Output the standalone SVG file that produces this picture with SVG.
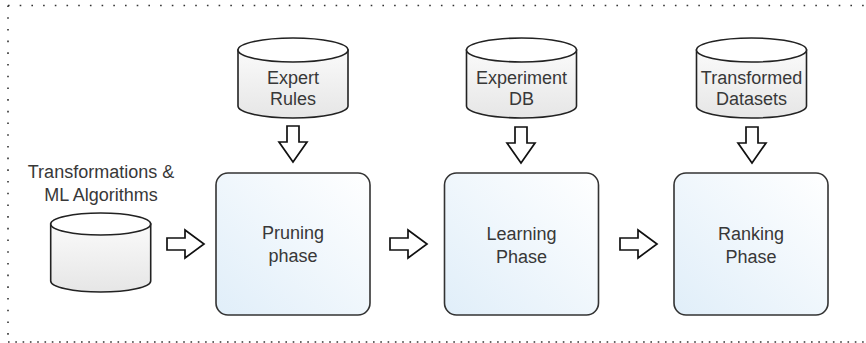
<svg xmlns="http://www.w3.org/2000/svg" width="866" height="343" viewBox="0 0 866 343">
<style>
.t{font-family:"Liberation Sans",Arial,sans-serif;font-size:18px;fill:#383838;text-anchor:middle}
.cyl{fill:url(#cylg);stroke:#222;stroke-width:1.6}
.cyltop{fill:#fff;stroke:#222;stroke-width:1.6}
.box{fill:url(#boxg);stroke:#333;stroke-width:1.6}
.arr{fill:#fff;stroke:#111;stroke-width:1.7;stroke-linejoin:miter}
.dot{stroke:#333;stroke-width:1.6;fill:none}
</style>
<defs>
<linearGradient id="cylg" x1="0" y1="0" x2="0" y2="1">
<stop offset="0" stop-color="#fafafa"/>
<stop offset="1" stop-color="#e6e6e6"/>
</linearGradient>
<linearGradient id="boxg" x1="0" y1="1" x2="1" y2="0">
<stop offset="0" stop-color="#e0eef9"/>
<stop offset="1" stop-color="#ffffff"/>
</linearGradient>
<path id="darr" d="M-6,-36 H6 V-20 H14 L0,0 L-14,-20 H-6 Z"/>
<path id="rarr" d="M-37,-6 H-19 V-14 L0,0 L-19,14 V6 H-37 Z"/>
</defs>
<g id="border">
<line class="dot" x1="8" y1="5.5" x2="866" y2="5.5" stroke-dasharray="1.6 10.1"/>
<line class="dot" x1="8" y1="5.5" x2="8" y2="342" stroke-dasharray="1.6 10.1"/>
<line class="dot" x1="8" y1="342" x2="866" y2="342" stroke-dasharray="1.6 5.7"/>
</g>
<g id="expert-rules">
<path class="cyl" d="M238,50 V106 A55,12 0 0 0 348,106 V50 Z"/>
<ellipse class="cyltop" cx="293" cy="50" rx="55" ry="12"/>
<text class="t" x="293" y="83.5">Expert</text>
<text class="t" x="293" y="105">Rules</text>
</g>
<g id="experiment-db">
<path class="cyl" d="M466.5,50 V106 A55,12 0 0 0 576.5,106 V50 Z"/>
<ellipse class="cyltop" cx="521.5" cy="50" rx="55" ry="12"/>
<text class="t" x="521.5" y="83.5">Experiment</text>
<text class="t" x="521.5" y="105">DB</text>
</g>
<g id="transformed-datasets">
<path class="cyl" d="M696.5,50 V106 A55,12 0 0 0 806.5,106 V50 Z"/>
<ellipse class="cyltop" cx="751.5" cy="50" rx="55" ry="12"/>
<text class="t" x="751.5" y="83.5">Transformed</text>
<text class="t" x="751.5" y="105">Datasets</text>
</g>
<g id="ml-algorithms">
<text class="t" x="101" y="178">Transformations &amp;</text>
<text class="t" x="101" y="201">ML Algorithms</text>
<path class="cyl" d="M50.7,224 V281 A50,11 0 0 0 150.7,281 V224 Z"/>
<ellipse class="cyltop" cx="100.7" cy="224" rx="50" ry="11"/>
</g>
<g id="pruning">
<rect class="box" x="216" y="173" width="154" height="142" rx="12"/>
<text class="t" x="293" y="239">Pruning</text>
<text class="t" x="293" y="262">phase</text>
</g>
<g id="learning">
<rect class="box" x="444.5" y="173" width="154" height="142" rx="12"/>
<text class="t" x="521.5" y="240">Learning</text>
<text class="t" x="521.5" y="263">Phase</text>
</g>
<g id="ranking">
<rect class="box" x="674" y="173" width="154" height="142" rx="12"/>
<text class="t" x="751" y="240">Ranking</text>
<text class="t" x="751" y="263">Phase</text>
</g>
<g id="connectors">
<use href="#darr" class="arr" x="293" y="162"/>
<use href="#darr" class="arr" x="521" y="163"/>
<use href="#darr" class="arr" x="752" y="163"/>
<use href="#rarr" class="arr" x="204" y="244"/>
<use href="#rarr" class="arr" x="427" y="244"/>
<use href="#rarr" class="arr" x="657" y="244"/>
</g>
</svg>
